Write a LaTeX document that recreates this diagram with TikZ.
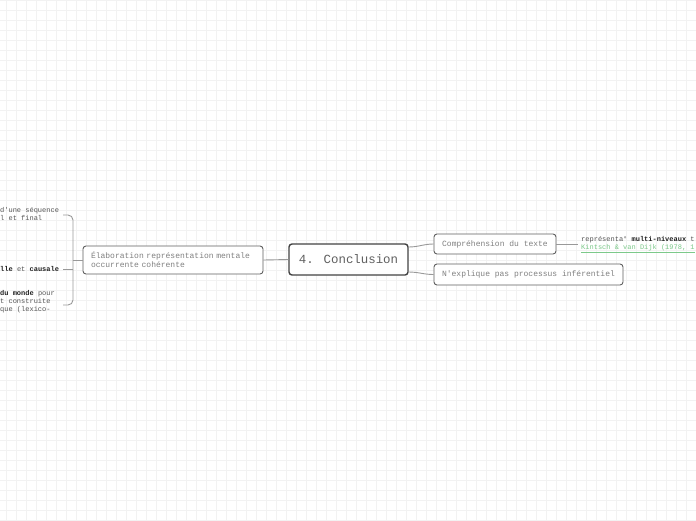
\documentclass[tikz,border=0pt]{standalone}
\usepackage{fontspec}
\newfontfamily\mapmono{Liberation Mono}
\definecolor{MapGrid}{HTML}{F2F2F2}
\definecolor{MapLine}{HTML}{999999}
\definecolor{MapBorder}{HTML}{606060}
\definecolor{MapText}{HTML}{808080}
\definecolor{MapNote}{HTML}{555555}
\definecolor{MapBold}{HTML}{222222}
\definecolor{MapLink}{HTML}{7CC98A}
\tikzset{
  topic/.style={draw=MapBorder,line width=0.9pt,rounded corners=3pt,fill=white,text=MapText,
    font=\mapmono\fontsize{8}{9}\selectfont,align=left,inner sep=0pt},
  conn/.style={draw=MapLine,line width=0.9pt},
  note/.style={text=MapNote,font=\mapmono\fontsize{7}{8}\selectfont,align=left,inner sep=0pt}
}
\begin{document}
\begin{tikzpicture}[x=1pt,y=-1pt]
  \useasboundingbox[fill=white] (0,0) rectangle (696,520);
  \foreach \x in {6,16,...,696}{
    \draw[MapGrid,line width=0.6pt] (\x,0) -- (\x,520);
  }
  \foreach \y in {0,10,...,520}{
    \draw[MapGrid,line width=0.6pt] (0,\y) -- (696,\y);
  }

  \node[topic,draw=MapBorder!70!black,line width=1.4pt,minimum width=119pt,minimum height=31pt,
    align=center,font=\mapmono\fontsize{12.4}{14}\selectfont,text=MapBorder] (concl) at (348.5,259.5) {4. Conclusion};
  \node[topic,minimum width=180pt,minimum height=28pt,text width=164pt] (elab) at (173,260)
    {Élaboration représentation mentale\\occurrente cohérente};
  \node[topic,minimum width=122pt,minimum height=20pt,align=center] (comp) at (495,244) {Compréhension du texte};
  \node[topic,minimum width=189pt,minimum height=21pt,align=center] (expl) at (528.5,274.5) {N'explique pas processus inférentiel};

  \draw[conn] (concl.west) -- (elab.east);
  \draw[conn] ([yshift=12.5pt]concl.east) to[out=0,in=180] (comp.west);
  \draw[conn] ([yshift=-12.5pt]concl.east) to[out=0,in=180] (expl.west);

  \coordinate (repEnd) at (578,244);
  \draw[conn] (comp.east) -- (repEnd);
  \node[note,anchor=west] (rep) at (581,245)
    {représenta° {\bfseries\color{MapBold}multi-niveaux} t\\
     {\color{MapLink}\underline{Kintsch \& van Dijk (1978, 1}}};

  \coordinate (brk) at (73,260);
  \coordinate (brkA) at (63,215);
  \coordinate (brkB) at (63,269);
  \coordinate (brkC) at (63,305);
  \draw[conn] (elab.west) -- (brk);
  \draw[conn,rounded corners=5pt] (brkA) -- (73,215) -- (73,305) -- (brkC);
  \draw[conn] (73,269) -- (brkB);

  \node[note,anchor=west] (seq) at (0,214) {d'une séquence\\l et final};
  \node[note,anchor=west] (caus) at (0,269)
    {{\bfseries\color{MapBold}lle} et {\bfseries\color{MapBold}causale}};
  \node[note,anchor=west] (monde) at (0,302)
    {{\bfseries\color{MapBold}du monde} pour\\t construite\\que (lexico-};
\end{tikzpicture}
\end{document}
